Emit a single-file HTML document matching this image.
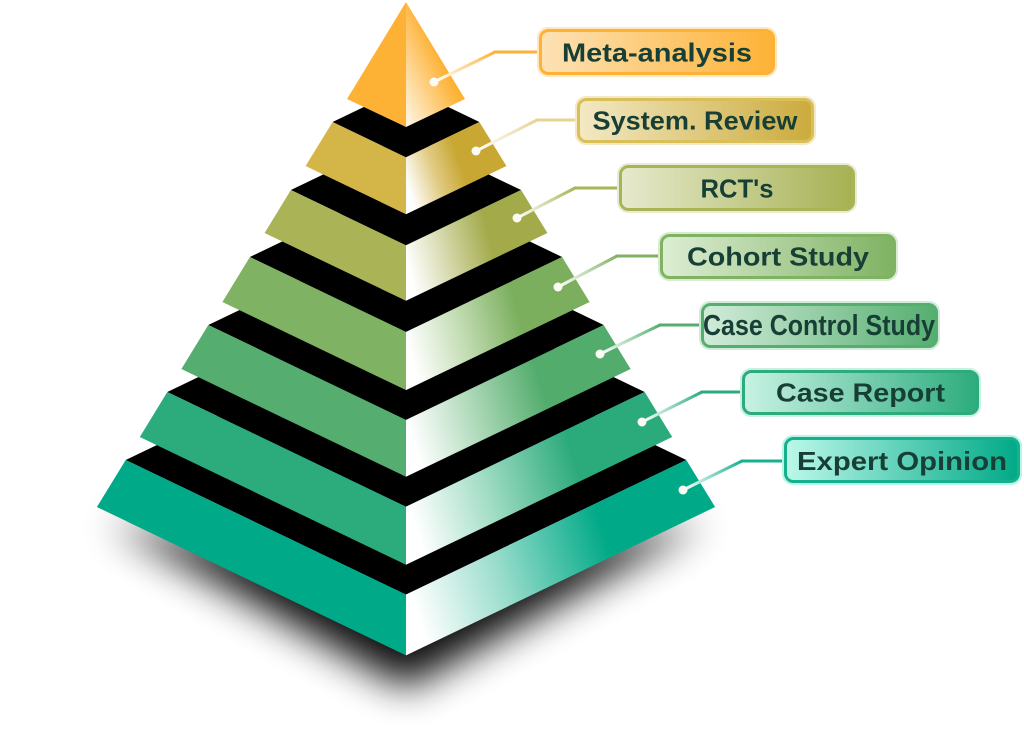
<!DOCTYPE html>
<html>
<head>
<meta charset="utf-8">
<style>
html,body{margin:0;padding:0;background:#fff;}
body{width:1024px;height:746px;overflow:hidden;}
svg{display:block;}
text{font-family:"Liberation Sans",sans-serif;font-weight:bold;fill:#173f35;}
</style>
</head>
<body>
<svg width="1024" height="746" viewBox="0 0 1024 746" xmlns="http://www.w3.org/2000/svg">
<defs>
  <filter id="blur" x="-30%" y="-50%" width="160%" height="200%">
    <feGaussianBlur stdDeviation="20"/>
  </filter>
  <linearGradient id="r1" x1="0" y1="1" x2="0.8" y2="0.2">
    <stop offset="0" stop-color="#fff8ea"/><stop offset="0.7" stop-color="#fdb236"/><stop offset="1" stop-color="#fdb236"/>
  </linearGradient>
  <linearGradient id="r2" x1="0" y1="0.65" x2="1" y2="0.35">
    <stop offset="0" stop-color="#ffffff"/><stop offset="0.28" stop-color="#e2cc86"/><stop offset="0.55" stop-color="#c8a733"/><stop offset="1" stop-color="#c8a733"/>
  </linearGradient>
  <linearGradient id="r3" x1="0" y1="0.6" x2="1" y2="0.4">
    <stop offset="0" stop-color="#ffffff"/><stop offset="0.3" stop-color="#d2d5a4"/><stop offset="0.6" stop-color="#a2aa4a"/><stop offset="1" stop-color="#a2aa4a"/>
  </linearGradient>
  <linearGradient id="r4" x1="0" y1="0.6" x2="1" y2="0.4">
    <stop offset="0" stop-color="#ffffff"/><stop offset="0.3" stop-color="#c2dcb2"/><stop offset="0.62" stop-color="#7baf5e"/><stop offset="1" stop-color="#7baf5e"/>
  </linearGradient>
  <linearGradient id="r5" x1="0" y1="0.6" x2="1" y2="0.4">
    <stop offset="0" stop-color="#ffffff"/><stop offset="0.3" stop-color="#acd8b7"/><stop offset="0.62" stop-color="#52ac6c"/><stop offset="1" stop-color="#52ac6c"/>
  </linearGradient>
  <linearGradient id="r6" x1="0" y1="0.6" x2="1" y2="0.4">
    <stop offset="0" stop-color="#ffffff"/><stop offset="0.3" stop-color="#a0dcc4"/><stop offset="0.65" stop-color="#2baa7b"/><stop offset="1" stop-color="#2baa7b"/>
  </linearGradient>
  <linearGradient id="r7" x1="0" y1="0.6" x2="1" y2="0.4">
    <stop offset="0" stop-color="#ffffff"/><stop offset="0.3" stop-color="#97dccb"/><stop offset="0.66" stop-color="#00a987"/><stop offset="1" stop-color="#00a987"/>
  </linearGradient>

  <linearGradient id="b1" x1="0" y1="0" x2="1" y2="0"><stop offset="0" stop-color="#fde2b6"/><stop offset="1" stop-color="#fdb236"/></linearGradient>
  <linearGradient id="b2" x1="0" y1="0" x2="1" y2="0"><stop offset="0" stop-color="#f3e9c4"/><stop offset="1" stop-color="#cbab3c"/></linearGradient>
  <linearGradient id="b3" x1="0" y1="0" x2="1" y2="0"><stop offset="0" stop-color="#e6eacd"/><stop offset="1" stop-color="#a6b152"/></linearGradient>
  <linearGradient id="b4" x1="0" y1="0" x2="1" y2="0"><stop offset="0" stop-color="#ddeed4"/><stop offset="1" stop-color="#7fb262"/></linearGradient>
  <linearGradient id="b5" x1="0" y1="0" x2="1" y2="0"><stop offset="0" stop-color="#d2ecda"/><stop offset="1" stop-color="#55ae6f"/></linearGradient>
  <linearGradient id="b6" x1="0" y1="0" x2="1" y2="0"><stop offset="0" stop-color="#c8f2e4"/><stop offset="1" stop-color="#2cac7d"/></linearGradient>
  <linearGradient id="b7" x1="0" y1="0" x2="1" y2="0"><stop offset="0" stop-color="#bdf8ea"/><stop offset="1" stop-color="#00a987"/></linearGradient>

  <linearGradient id="c1" gradientUnits="userSpaceOnUse" x1="434" y1="82" x2="495" y2="52"><stop offset="0" stop-color="#ffffff"/><stop offset="1" stop-color="#fdb236"/></linearGradient>
  <linearGradient id="c2" gradientUnits="userSpaceOnUse" x1="476" y1="151" x2="537" y2="120"><stop offset="0" stop-color="#ffffff"/><stop offset="1" stop-color="#e6d494"/></linearGradient>
  <linearGradient id="c3" gradientUnits="userSpaceOnUse" x1="517" y1="218" x2="575" y2="188"><stop offset="0" stop-color="#ffffff"/><stop offset="1" stop-color="#a9b456"/></linearGradient>
  <linearGradient id="c4" gradientUnits="userSpaceOnUse" x1="558" y1="287" x2="617" y2="256"><stop offset="0" stop-color="#ffffff"/><stop offset="1" stop-color="#7fb262"/></linearGradient>
  <linearGradient id="c5" gradientUnits="userSpaceOnUse" x1="600" y1="354" x2="660" y2="325"><stop offset="0" stop-color="#ffffff"/><stop offset="1" stop-color="#55ae6f"/></linearGradient>
  <linearGradient id="c6" gradientUnits="userSpaceOnUse" x1="642" y1="422" x2="702" y2="392"><stop offset="0" stop-color="#ffffff"/><stop offset="1" stop-color="#2cac7d"/></linearGradient>
  <linearGradient id="c7" gradientUnits="userSpaceOnUse" x1="683" y1="490" x2="742" y2="461"><stop offset="0" stop-color="#ffffff"/><stop offset="1" stop-color="#17b08d"/></linearGradient>
</defs>

<!-- shadow -->
<polygon points="108,522 406,688 704,522 406,575" fill="#000" opacity="0.95" filter="url(#blur)"/>

<!-- Tier 7 -->
<polygon points="125.7,460 406,594.5 686.3,460 406,325.5" fill="#000"/>
<polygon points="125.7,460 96.9,507 406,655.4 406,594.5" fill="#00a987"/>
<polygon points="686.3,460 715.1,507 406,655.4 406,594.5" fill="url(#r7)"/>
<!-- Tier 6 -->
<polygon points="167.3,392 406,506.6 644.7,392 406,277.4" fill="#000"/>
<polygon points="167.3,392 139.8,437 406,564.8 406,506.6" fill="#2cac7d"/>
<polygon points="644.7,392 672.2,437 406,564.8 406,506.6" fill="url(#r6)"/>
<!-- Tier 5 -->
<polygon points="208.3,325 406,419.9 603.7,325 406,230.1" fill="#000"/>
<polygon points="208.3,325 181.4,369 406,476.8 406,419.9" fill="#55ae6f"/>
<polygon points="603.7,325 630.6,369 406,476.8 406,419.9" fill="url(#r5)"/>
<!-- Tier 4 -->
<polygon points="249.9,257 406,331.9 562.1,257 406,182.1" fill="#000"/>
<polygon points="249.9,257 222.4,302 406,390.1 406,331.9" fill="#7fb262"/>
<polygon points="562.1,257 589.6,302 406,390.1 406,331.9" fill="url(#r4)"/>
<!-- Tier 3 -->
<polygon points="290.9,190 406,245.2 521.1,190 406,134.8" fill="#000"/>
<polygon points="290.9,190 264.6,233 406,300.8 406,245.2" fill="#aab456"/>
<polygon points="521.1,190 547.4,233 406,300.8 406,245.2" fill="url(#r3)"/>
<!-- Tier 2 -->
<polygon points="332.6,122 406,157.3 479.4,122 406,86.7" fill="#000"/>
<polygon points="332.6,122 305.6,166 406,214.2 406,157.3" fill="#d4b548"/>
<polygon points="479.4,122 506.4,166 406,214.2 406,157.3" fill="url(#r2)"/>
<!-- Tier 1 (apex) -->
<polygon points="406,2 347,99 406,127" fill="#fdb236"/>
<polygon points="406,2 465,99 406,127" fill="url(#r1)"/>

<!-- connectors -->
<g stroke-width="3" fill="none" stroke-linecap="round">
  <line x1="434" y1="82" x2="495" y2="52" stroke="url(#c1)"/><line x1="495" y1="52" x2="540" y2="52" stroke="#fdb236"/>
  <line x1="476" y1="151" x2="537" y2="120" stroke="url(#c2)"/><line x1="537" y1="120" x2="578" y2="120" stroke="#e6d494"/>
  <line x1="517" y1="218" x2="575" y2="188" stroke="url(#c3)"/><line x1="575" y1="188" x2="620" y2="188" stroke="#a9b456"/>
  <line x1="558" y1="287" x2="617" y2="256" stroke="url(#c4)"/><line x1="617" y1="256" x2="661" y2="256" stroke="#7fb262"/>
  <line x1="600" y1="354" x2="660" y2="325" stroke="url(#c5)"/><line x1="660" y1="325" x2="702" y2="325" stroke="#55ae6f"/>
  <line x1="642" y1="422" x2="702" y2="392" stroke="url(#c6)"/><line x1="702" y1="392" x2="743" y2="392" stroke="#2cac7d"/>
  <line x1="683" y1="490" x2="742" y2="461" stroke="url(#c7)"/><line x1="742" y1="461" x2="785" y2="461" stroke="#17b08d"/>
</g>
<g fill="#fbfbf6">
  <circle cx="434" cy="82" r="4.5"/><circle cx="476" cy="151" r="4.5"/><circle cx="517" cy="218" r="4.5"/>
  <circle cx="558" cy="287" r="4.5"/><circle cx="600" cy="354" r="4.5"/><circle cx="642" cy="422" r="4.5"/><circle cx="683" cy="490" r="4.5"/>
</g>

<!-- label boxes -->
<rect x="537" y="27" width="240" height="50" rx="11" fill="#fee6bf"/>
<rect x="540.5" y="30.5" width="233" height="43" rx="8" fill="url(#b1)" stroke="#fdb236" stroke-width="3"/>
<text x="657" y="61.5" font-size="26" text-anchor="middle" textLength="190" lengthAdjust="spacingAndGlyphs">Meta-analysis</text>

<rect x="575" y="96" width="241" height="49" rx="11" fill="#f3e9c6"/>
<rect x="578.5" y="99.5" width="234" height="42" rx="8" fill="url(#b2)" stroke="#d9bf58" stroke-width="3"/>
<text x="695" y="129.5" font-size="26" text-anchor="middle" textLength="205" lengthAdjust="spacingAndGlyphs">System. Review</text>

<rect x="617" y="163" width="240" height="50" rx="11" fill="#e9ecd4"/>
<rect x="620.5" y="166.5" width="233" height="43" rx="8" fill="url(#b3)" stroke="#a9b456" stroke-width="3"/>
<text x="737" y="197.5" font-size="26" text-anchor="middle" textLength="73" lengthAdjust="spacingAndGlyphs">RCT's</text>

<rect x="658" y="232" width="240" height="49" rx="11" fill="#d9ecd0"/>
<rect x="661.5" y="235.5" width="233" height="42" rx="8" fill="url(#b4)" stroke="#7fb262" stroke-width="3"/>
<text x="778" y="265.5" font-size="26" text-anchor="middle" textLength="182" lengthAdjust="spacingAndGlyphs">Cohort Study</text>

<rect x="699" y="301" width="241" height="49" rx="11" fill="#cfecd8"/>
<rect x="702.5" y="304.5" width="234" height="42" rx="8" fill="url(#b5)" stroke="#55ae6f" stroke-width="3"/>
<text x="819" y="335" font-size="29" text-anchor="middle" textLength="232" lengthAdjust="spacingAndGlyphs">Case Control Study</text>

<rect x="740" y="368" width="241" height="49" rx="11" fill="#c9f0e3"/>
<rect x="743.5" y="371.5" width="234" height="42" rx="8" fill="url(#b6)" stroke="#2cac7d" stroke-width="3"/>
<text x="860.5" y="401.5" font-size="26" text-anchor="middle" textLength="169" lengthAdjust="spacingAndGlyphs">Case Report</text>

<rect x="782" y="435" width="240" height="50" rx="11" fill="#b8f4e7"/>
<rect x="785.5" y="438.5" width="233" height="43" rx="8" fill="url(#b7)" stroke="#17b08d" stroke-width="3"/>
<text x="902" y="470" font-size="26" text-anchor="middle" textLength="210" lengthAdjust="spacingAndGlyphs">Expert Opinion</text>
</svg>
</body>
</html>
